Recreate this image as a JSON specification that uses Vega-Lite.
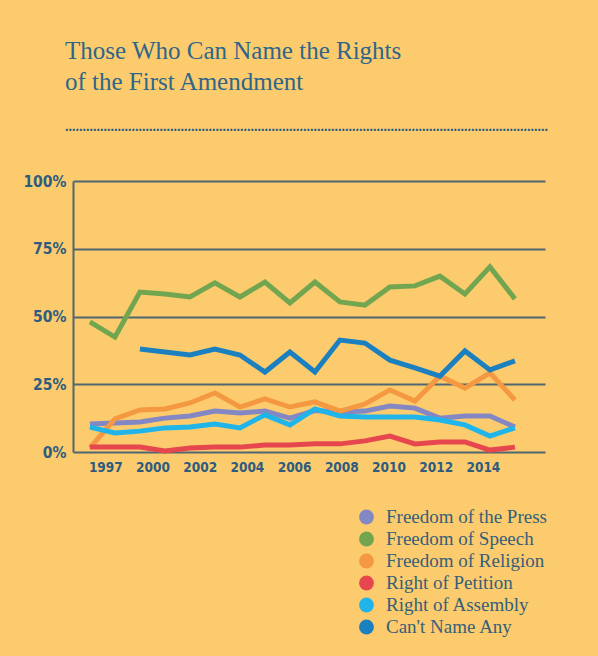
{
  "$schema": "https://vega.github.io/schema/vega-lite/v6.json",
  "width": 472,
  "height": 271,
  "autosize": {"type": "none"},
  "padding": {"left": 73, "top": 181, "right": 53, "bottom": 204},
  "background": "#FCCB6D",
  "title": {
    "text": ["Those Who Can Name the Rights", "of the First Amendment"],
    "subtitle": "..........................................................................................................................................",
    "anchor": "start",
    "frame": "group",
    "dx": -8,
    "offset": 40,
    "font": "Liberation Serif",
    "fontSize": 25,
    "fontWeight": "normal",
    "color": "#2E6689",
    "lineHeight": 31,
    "subtitleFont": "Liberation Serif",
    "subtitleFontSize": 14,
    "subtitleFontWeight": "bold",
    "subtitleColor": "#2E5A80",
    "subtitlePadding": 25
  },
  "config": {
    "view": {"stroke": null},
    "axis": {
      "labelFont": "DejaVu Sans Condensed, Liberation Sans, sans-serif",
      "labelFontWeight": "bold",
      "labelColor": "#2D5C80"
    }
  },
  "datasets": {
    "ticks": [
      {"label": "1997"}, {"label": "2000"}, {"label": "2002"}, {"label": "2004"},
      {"label": "2006"}, {"label": "2008"}, {"label": "2010"}, {"label": "2012"}, {"label": "2014"}
    ],
    "rights": [
      {"wave": 1, "series": "Freedom of the Press", "value": 10.3},
      {"wave": 2, "series": "Freedom of the Press", "value": 10.7},
      {"wave": 3, "series": "Freedom of the Press", "value": 11.1},
      {"wave": 4, "series": "Freedom of the Press", "value": 12.5},
      {"wave": 5, "series": "Freedom of the Press", "value": 13.3},
      {"wave": 6, "series": "Freedom of the Press", "value": 15.1},
      {"wave": 7, "series": "Freedom of the Press", "value": 14.4},
      {"wave": 8, "series": "Freedom of the Press", "value": 15.1},
      {"wave": 9, "series": "Freedom of the Press", "value": 12.5},
      {"wave": 10, "series": "Freedom of the Press", "value": 15.3},
      {"wave": 11, "series": "Freedom of the Press", "value": 14.8},
      {"wave": 12, "series": "Freedom of the Press", "value": 15.1},
      {"wave": 13, "series": "Freedom of the Press", "value": 17.0},
      {"wave": 14, "series": "Freedom of the Press", "value": 16.2},
      {"wave": 15, "series": "Freedom of the Press", "value": 12.5},
      {"wave": 16, "series": "Freedom of the Press", "value": 13.3},
      {"wave": 17, "series": "Freedom of the Press", "value": 13.3},
      {"wave": 18, "series": "Freedom of the Press", "value": 9.2},
      {"wave": 1, "series": "Freedom of Speech", "value": 48.0},
      {"wave": 2, "series": "Freedom of Speech", "value": 42.4},
      {"wave": 3, "series": "Freedom of Speech", "value": 59.0},
      {"wave": 4, "series": "Freedom of Speech", "value": 58.3},
      {"wave": 5, "series": "Freedom of Speech", "value": 57.2},
      {"wave": 6, "series": "Freedom of Speech", "value": 62.4},
      {"wave": 7, "series": "Freedom of Speech", "value": 57.2},
      {"wave": 8, "series": "Freedom of Speech", "value": 62.7},
      {"wave": 9, "series": "Freedom of Speech", "value": 55.0},
      {"wave": 10, "series": "Freedom of Speech", "value": 62.7},
      {"wave": 11, "series": "Freedom of Speech", "value": 55.4},
      {"wave": 12, "series": "Freedom of Speech", "value": 54.2},
      {"wave": 13, "series": "Freedom of Speech", "value": 60.9},
      {"wave": 14, "series": "Freedom of Speech", "value": 61.3},
      {"wave": 15, "series": "Freedom of Speech", "value": 64.9},
      {"wave": 16, "series": "Freedom of Speech", "value": 58.3},
      {"wave": 17, "series": "Freedom of Speech", "value": 68.3},
      {"wave": 18, "series": "Freedom of Speech", "value": 56.5},
      {"wave": 1, "series": "Freedom of Religion", "value": 1.5},
      {"wave": 2, "series": "Freedom of Religion", "value": 12.2},
      {"wave": 3, "series": "Freedom of Religion", "value": 15.5},
      {"wave": 4, "series": "Freedom of Religion", "value": 15.9},
      {"wave": 5, "series": "Freedom of Religion", "value": 18.1},
      {"wave": 6, "series": "Freedom of Religion", "value": 21.8},
      {"wave": 7, "series": "Freedom of Religion", "value": 16.6},
      {"wave": 8, "series": "Freedom of Religion", "value": 19.6},
      {"wave": 9, "series": "Freedom of Religion", "value": 16.6},
      {"wave": 10, "series": "Freedom of Religion", "value": 18.5},
      {"wave": 11, "series": "Freedom of Religion", "value": 15.1},
      {"wave": 12, "series": "Freedom of Religion", "value": 17.7},
      {"wave": 13, "series": "Freedom of Religion", "value": 22.9},
      {"wave": 14, "series": "Freedom of Religion", "value": 18.8},
      {"wave": 15, "series": "Freedom of Religion", "value": 28.0},
      {"wave": 16, "series": "Freedom of Religion", "value": 23.6},
      {"wave": 17, "series": "Freedom of Religion", "value": 29.2},
      {"wave": 18, "series": "Freedom of Religion", "value": 19.2},
      {"wave": 1, "series": "Right of Petition", "value": 1.8},
      {"wave": 2, "series": "Right of Petition", "value": 1.8},
      {"wave": 3, "series": "Right of Petition", "value": 1.8},
      {"wave": 4, "series": "Right of Petition", "value": 0.4},
      {"wave": 5, "series": "Right of Petition", "value": 1.5},
      {"wave": 6, "series": "Right of Petition", "value": 1.8},
      {"wave": 7, "series": "Right of Petition", "value": 1.8},
      {"wave": 8, "series": "Right of Petition", "value": 2.6},
      {"wave": 9, "series": "Right of Petition", "value": 2.6},
      {"wave": 10, "series": "Right of Petition", "value": 3.0},
      {"wave": 11, "series": "Right of Petition", "value": 3.0},
      {"wave": 12, "series": "Right of Petition", "value": 4.1},
      {"wave": 13, "series": "Right of Petition", "value": 5.9},
      {"wave": 14, "series": "Right of Petition", "value": 3.0},
      {"wave": 15, "series": "Right of Petition", "value": 3.7},
      {"wave": 16, "series": "Right of Petition", "value": 3.7},
      {"wave": 17, "series": "Right of Petition", "value": 0.7},
      {"wave": 18, "series": "Right of Petition", "value": 1.8},
      {"wave": 1, "series": "Right of Assembly", "value": 9.2},
      {"wave": 2, "series": "Right of Assembly", "value": 7.0},
      {"wave": 3, "series": "Right of Assembly", "value": 7.7},
      {"wave": 4, "series": "Right of Assembly", "value": 8.9},
      {"wave": 5, "series": "Right of Assembly", "value": 9.2},
      {"wave": 6, "series": "Right of Assembly", "value": 10.3},
      {"wave": 7, "series": "Right of Assembly", "value": 8.9},
      {"wave": 8, "series": "Right of Assembly", "value": 13.7},
      {"wave": 9, "series": "Right of Assembly", "value": 10.0},
      {"wave": 10, "series": "Right of Assembly", "value": 15.9},
      {"wave": 11, "series": "Right of Assembly", "value": 13.3},
      {"wave": 12, "series": "Right of Assembly", "value": 12.9},
      {"wave": 13, "series": "Right of Assembly", "value": 12.9},
      {"wave": 14, "series": "Right of Assembly", "value": 12.9},
      {"wave": 15, "series": "Right of Assembly", "value": 11.8},
      {"wave": 16, "series": "Right of Assembly", "value": 10.0},
      {"wave": 17, "series": "Right of Assembly", "value": 5.9},
      {"wave": 18, "series": "Right of Assembly", "value": 8.9},
      {"wave": 3, "series": "Can't Name Any", "value": 38.0},
      {"wave": 4, "series": "Can't Name Any", "value": 36.9},
      {"wave": 5, "series": "Can't Name Any", "value": 35.8},
      {"wave": 6, "series": "Can't Name Any", "value": 38.0},
      {"wave": 7, "series": "Can't Name Any", "value": 35.8},
      {"wave": 8, "series": "Can't Name Any", "value": 29.5},
      {"wave": 9, "series": "Can't Name Any", "value": 36.9},
      {"wave": 10, "series": "Can't Name Any", "value": 29.5},
      {"wave": 11, "series": "Can't Name Any", "value": 41.3},
      {"wave": 12, "series": "Can't Name Any", "value": 40.2},
      {"wave": 13, "series": "Can't Name Any", "value": 33.9},
      {"wave": 14, "series": "Can't Name Any", "value": 31.0},
      {"wave": 15, "series": "Can't Name Any", "value": 28.0},
      {"wave": 16, "series": "Can't Name Any", "value": 37.3},
      {"wave": 17, "series": "Can't Name Any", "value": 30.3},
      {"wave": 18, "series": "Can't Name Any", "value": 33.6}
    ]
  },
  "layer": [
    {
      "data": {"name": "rights"},
      "mark": {"type": "line", "strokeWidth": 5, "strokeJoin": "miter"},
      "encoding": {
        "x": {
          "field": "wave",
          "type": "ordinal",
          "scale": {"type": "point", "padding": 0.94, "align": 0.36},
          "axis": null
        },
        "y": {
          "field": "value",
          "type": "quantitative",
          "scale": {"domain": [0, 100], "nice": false},
          "axis": {
            "title": null,
            "values": [0, 25, 50, 75, 100],
            "labelExpr": "datum.value + '%'",
            "grid": true,
            "gridColor": "#4F6770",
            "gridWidth": 2,
            "gridOpacity": 1,
            "domain": true,
            "domainColor": "#4F6770",
            "domainWidth": 2,
            "ticks": false,
            "labelPadding": 7,
            "labelFontSize": 15.5
          }
        },
        "color": {
          "field": "series",
          "type": "nominal",
          "scale": {
            "domain": ["Freedom of the Press", "Freedom of Speech", "Freedom of Religion", "Right of Petition", "Right of Assembly", "Can't Name Any"],
            "range": ["#8387C4", "#72A550", "#F59842", "#E6474F", "#1FB5EA", "#1A80C0"]
          },
          "legend": {
            "title": null,
            "orient": "none",
            "legendX": 284,
            "legendY": 326,
            "padding": 0,
            "symbolType": "circle",
            "symbolSize": 220,
            "symbolStrokeWidth": 0,
            "symbolOpacity": 1,
            "labelFont": "Liberation Serif",
            "labelFontSize": 19,
            "labelColor": "#35607A",
            "labelOffset": 10,
            "rowPadding": 2,
            "clipHeight": 20,
            "labelLimit": 400,
            "encode": {
              "symbols": {
                "update": {
                  "fill": {"signal": "scale('color', datum.value)"},
                  "strokeWidth": {"value": 0}
                }
              }
            }
          }
        }
      }
    },
    {
      "data": {"name": "ticks"},
      "mark": {"type": "point", "opacity": 0},
      "encoding": {
        "x": {
          "field": "label",
          "type": "ordinal",
          "scale": {"type": "point", "padding": 1.23, "align": 0.342},
          "axis": {
            "title": null,
            "orient": "bottom",
            "domain": false,
            "ticks": false,
            "grid": false,
            "labelAngle": 0,
            "labelPadding": 8,
            "labelFontSize": 13.5
          }
        }
      }
    }
  ],
  "resolve": {"scale": {"x": "independent"}}
}
